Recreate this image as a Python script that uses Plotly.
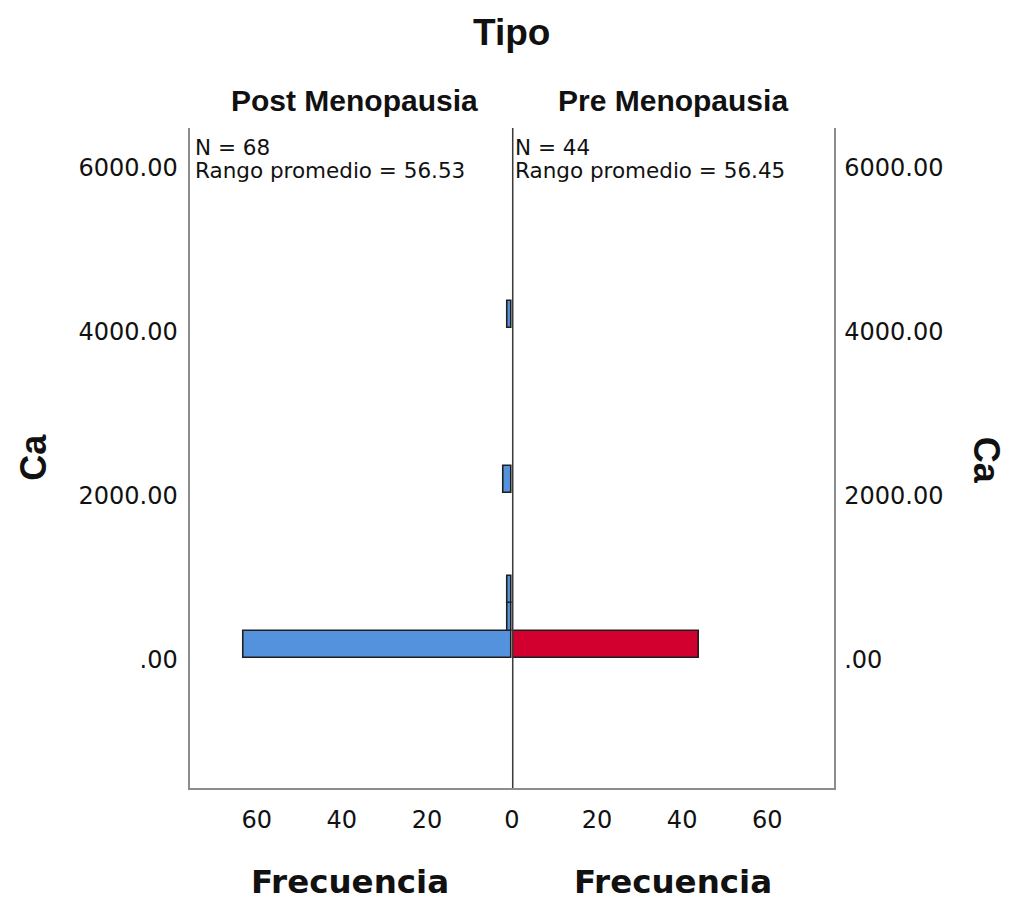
import plotly.graph_objects as go

# ---- data ----
group_names = ["Post Menopausia", "Pre Menopausia"]
bin_starts = [24, 359, 694, 2034, 4044]      # lower edge of each occupied Ca bin
bin_width = 335
post_counts = [63, 1, 1, 2, 1]
pre_counts = [44, 0, 0, 0, 0]
n_labels = ["N = 68", "N = 44"]
rank_labels = ["Rango promedio = 56.53", "Rango promedio = 56.45"]
y_tickvals = [0, 2000, 4000, 6000]
y_ticktext = [".00", "2000.00", "4000.00", "6000.00"]
x_tickvals_left = [20, 40, 60]
x_tickvals_right = [0, 20, 40, 60]

W, H = 1010, 904
SHIFT = 3
def px(x):
    return (x - SHIFT) / W
def py(y):
    return 1 - y / H

blue = "#5592dd"
red = "#d2002e"
edge = "#1e1e1e"
frame = "#8c8c8c"
txt = "#111111"

centers = [s + bin_width / 2 for s in bin_starts]

fig = go.Figure()
fig.add_trace(go.Bar(
    y=centers, x=post_counts, orientation="h", width=bin_width,
    marker=dict(color=blue, line=dict(color=edge, width=1.6)),
    xaxis="x", yaxis="y", showlegend=False, hoverinfo="x+y"))
fig.add_trace(go.Bar(
    y=centers, x=pre_counts, orientation="h", width=bin_width,
    marker=dict(color=red, line=dict(color=edge, width=1.6)),
    xaxis="x2", yaxis="y2", showlegend=False, hoverinfo="x+y"))

tick_font = dict(family="DejaVu Sans", size=24, color=txt)
xmax = 75.8
yr = [-1561, 6488]
ydom = [py(788), py(128)]

fig.update_layout(
    width=W, height=H, autosize=False,
    margin=dict(l=0, r=0, t=0, b=0),
    paper_bgcolor="white", plot_bgcolor="white",
    bargap=0,
    xaxis=dict(domain=[px(186), px(511)], range=[xmax, 0], autorange=False,
               tickvals=x_tickvals_left, ticks="", showgrid=False, zeroline=False,
               showline=True, linecolor=frame, linewidth=2,
               tickfont=tick_font, ticklabelstandoff=9, anchor="y"),
    yaxis=dict(domain=ydom, range=yr, autorange=False,
               tickvals=y_tickvals, ticktext=y_ticktext, ticks="",
               showgrid=False, zeroline=False, showline=True, linecolor=frame,
               linewidth=2, tickfont=tick_font, ticklabelstandoff=5, anchor="x"),
    xaxis2=dict(domain=[px(511), px(836)], range=[0, xmax], autorange=False,
                tickvals=x_tickvals_right, ticks="", showgrid=False, zeroline=False,
                showline=True, linecolor=frame, linewidth=2,
                tickfont=tick_font, ticklabelstandoff=9, anchor="y2"),
    yaxis2=dict(domain=ydom, range=yr, autorange=False, side="right",
                tickvals=y_tickvals, ticktext=y_ticktext, ticks="",
                showgrid=False, zeroline=False, showline=True, linecolor=frame,
                linewidth=2, tickfont=tick_font, ticklabelstandoff=3, anchor="x2"),
)

# centre divider line (drawn above the bars)
fig.add_shape(type="line", xref="x2", x0=0, x1=0, yref="paper",
              y0=ydom[0], y1=ydom[1], line=dict(color="#3a3a3a", width=3),
              layer="above")

ann = []
ann.append(dict(text="<b>Tipo</b>", x=px(511), y=py(33), xref="paper", yref="paper",
                showarrow=False, xanchor="center", yanchor="middle",
                font=dict(family="Liberation Sans", size=37, color=txt)))
for name, xc in zip(group_names, [352, 673]):
    ann.append(dict(text="<b>" + name + "</b>", x=px(xc), y=py(101),
                    xref="paper", yref="paper", showarrow=False,
                    xanchor="center", yanchor="middle",
                    font=dict(family="Liberation Sans", size=30, color=txt)))
for nl, rl, xl in zip(n_labels, rank_labels, [189, 512]):
    ann.append(dict(text=nl, x=px(xl), y=py(147), xref="paper", yref="paper",
                    showarrow=False, xanchor="left", yanchor="middle",
                    font=dict(family="DejaVu Sans", size=21.5, color=txt)))
    ann.append(dict(text=rl, x=px(xl), y=py(171), xref="paper", yref="paper",
                    showarrow=False, xanchor="left", yanchor="middle",
                    font=dict(family="DejaVu Sans", size=21.5, color=txt)))
for xc in [348, 673]:
    ann.append(dict(text="<b>Frecuencia</b>", x=px(xc), y=py(882),
                    xref="paper", yref="paper", showarrow=False,
                    xanchor="center", yanchor="middle",
                    font=dict(family="DejaVu Sans", size=32.5, color=txt)))
ann.append(dict(text="<b>Ca</b>", x=px(28), y=py(457), xref="paper", yref="paper",
                showarrow=False, xanchor="center", yanchor="middle", textangle=-90,
                font=dict(family="Liberation Sans", size=36, color=txt)))
ann.append(dict(text="<b>Ca</b>", x=987 / W, y=py(460), xref="paper", yref="paper",
                showarrow=False, xanchor="center", yanchor="middle", textangle=90,
                font=dict(family="Liberation Sans", size=36, color=txt)))
fig.update_layout(annotations=ann)

fig.write_html("out.html",
               config={"displayModeBar": False},
               post_script="document.body.style.margin='0';"
                           "document.body.style.overflow='hidden';")
